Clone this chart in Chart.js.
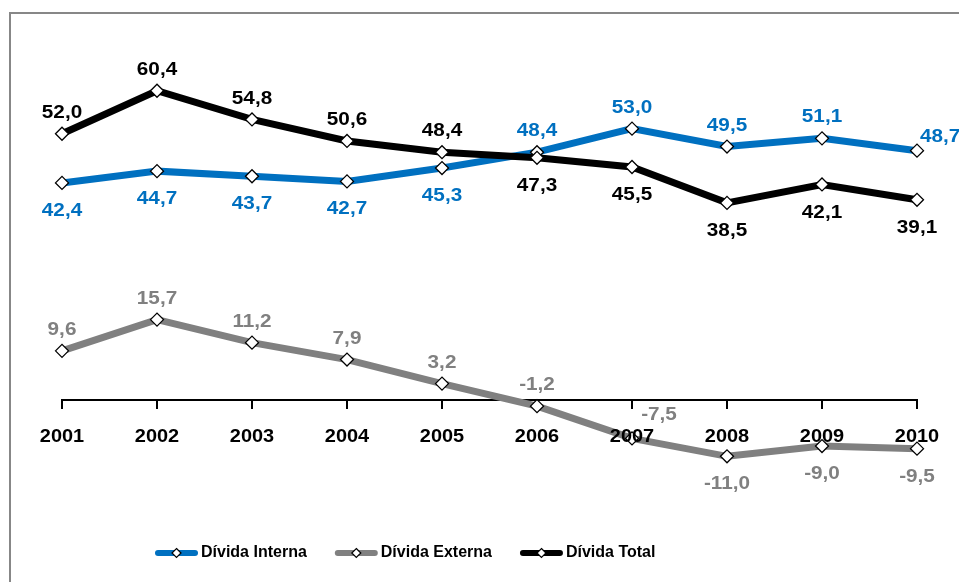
<!DOCTYPE html>
<html>
<head>
<meta charset="utf-8">
<script src="https://cdn.jsdelivr.net/npm/chart.js@4.4.1/dist/chart.umd.min.js"></script>
<style>
    html, body { margin: 0; padding: 0; background: #fff; }
    body { width: 959px; height: 582px; position: relative; overflow: hidden; }
    #frame {
        position: absolute; left: 9px; top: 12px; width: 1000px; height: 600px;
        border-top: 2px solid #878787; border-left: 2px solid #878787;
    }
    #chart { position: absolute; left: 0; top: 0; }
</style>
</head>
<body>
<div id="frame"></div>
<canvas id="chart" width="959" height="582"></canvas>
<script>
// Anos
const anos = ['2001', '2002', '2003', '2004', '2005', '2006', '2007', '2008', '2009', '2010'];

// Séries (% do PIB)
const dividaInterna = [42.4, 44.7, 43.7, 42.7, 45.3, 48.4, 53.0, 49.5, 51.1, 48.7];
const dividaExterna = [9.6, 15.7, 11.2, 7.9, 3.2, -1.2, -7.5, -11.0, -9.0, -9.5];
const dividaTotal = [52.0, 60.4, 54.8, 50.6, 48.4, 47.3, 45.5, 38.5, 42.1, 39.1];

// Onde vai cada rótulo em relação ao ponto
const posInterna = ['below', 'below', 'below', 'below', 'below', 'above', 'above', 'above', 'above', 'right'];
const posExterna = ['above', 'above', 'above', 'above', 'above', 'above', 'aboveRight', 'below', 'below', 'below'];
const posTotal = ['above', 'above', 'above', 'above', 'above', 'below', 'below', 'below', 'below', 'below'];

const AZUL = '#0070C0';
const CINZA = '#808080';
const PRETO = '#000000';
const FONTE = 'Liberation Sans, Arial, sans-serif';

function fmt(v) {
    return v.toFixed(1).replace('.', ',');
}

// texto em negrito, com alargamento horizontal opcional (sx)
function texto(ctx, str, x, y, align, size, color, sx) {
    ctx.save();
    ctx.translate(x, y);
    ctx.scale(sx || 1, 1);
    ctx.font = 'bold ' + size + 'px ' + FONTE;
    ctx.fillStyle = color;
    ctx.textAlign = align;
    ctx.textBaseline = 'middle';
    ctx.fillText(str, 0, 0);
    ctx.restore();
}

function losango(ctx, x, y, r) {
    ctx.beginPath();
    ctx.moveTo(x, y - r);
    ctx.lineTo(x + r, y);
    ctx.lineTo(x, y + r);
    ctx.lineTo(x - r, y);
    ctx.closePath();
    ctx.fillStyle = '#fff';
    ctx.fill();
    ctx.lineWidth = 1.2;
    ctx.strokeStyle = '#000';
    ctx.stroke();
}

// Rótulos de valores, anos no eixo e legenda
const rotulos = {
    id: 'rotulos',
    afterDatasetsDraw(chart) {
        const ctx = chart.ctx;
        chart.data.datasets.forEach((ds, i) => {
            const meta = chart.getDatasetMeta(i);
            meta.data.forEach((pt, j) => {
                const pos = ds.labelPos[j];
                const s = fmt(ds.data[j]);
                const c = ds.labelColor;
                if (pos === 'above') texto(ctx, s, pt.x, pt.y - 21, 'center', 18.5, c, 1.12);
                else if (pos === 'below') texto(ctx, s, pt.x, pt.y + 28, 'center', 18.5, c, 1.12);
                else if (pos === 'right') texto(ctx, s, pt.x + 3, pt.y - 14, 'left', 18.5, c, 1.12);
                else if (pos === 'aboveRight') texto(ctx, s, pt.x + 27, pt.y - 23, 'center', 18.5, c, 1.12);
            });
        });
    },
    afterDraw(chart) {
        const ctx = chart.ctx;
        const xs = chart.scales.x;
        const y0 = chart.scales.y.getPixelForValue(0);

        // anos abaixo do eixo
        anos.forEach((a, i) => {
            texto(ctx, a, xs.getPixelForValue(i), y0 + 37, 'center', 19, '#000', 1.05);
        });

        // legenda
        const itens = [
            { nome: 'Dívida Interna', cor: AZUL },
            { nome: 'Dívida Externa', cor: CINZA },
            { nome: 'Dívida Total', cor: PRETO }
        ];
        let x = 155;
        const y = 553;
        itens.forEach(it => {
            ctx.save();
            ctx.beginPath();
            ctx.moveTo(x + 3, y);
            ctx.lineTo(x + 40, y);
            ctx.lineWidth = 6;
            ctx.lineCap = 'round';
            ctx.strokeStyle = it.cor;
            ctx.stroke();
            losango(ctx, x + 21.5, y, 4.5);
            ctx.restore();
            ctx.font = 'bold 16px ' + FONTE;
            const w = ctx.measureText(it.nome).width;
            texto(ctx, it.nome, x + 46, y, 'left', 16, '#000');
            x += 46 + w + 28;
        });
    }
};

const ctx = document.getElementById('chart').getContext('2d');

const serie = (label, data, cor, pos, order) => ({
    label: label,
    data: data,
    borderColor: cor,
    borderWidth: 7,
    labelColor: cor,
    labelPos: pos,
    order: order,
    pointStyle: 'rectRot',
    pointRadius: 6.5,
    pointBackgroundColor: '#fff',
    pointBorderColor: '#000',
    pointBorderWidth: 1.3,
    tension: 0,
    clip: false
});

new Chart(ctx, {
    type: 'line',
    data: {
        labels: anos,
        datasets: [
            serie('Dívida Interna', dividaInterna, AZUL, posInterna, 2),
            serie('Dívida Externa', dividaExterna, CINZA, posExterna, 1),
            serie('Dívida Total', dividaTotal, PRETO, posTotal, 0)
        ]
    },
    options: {
        responsive: false,
        animation: false,
        layout: {
            padding: { left: 62, right: 42, top: 41.6, bottom: 79.6 }
        },
        plugins: {
            legend: { display: false },
            tooltip: { enabled: false }
        },
        scales: {
            y: {
                display: false,
                min: -20,
                max: 70
            },
            x: {
                position: { y: 0 },
                offset: false,
                border: { display: true, color: '#000', width: 2 },
                grid: {
                    drawOnChartArea: false,
                    drawTicks: true,
                    tickLength: 8,
                    color: '#000',
                    lineWidth: 2
                },
                ticks: { display: false }
            }
        }
    },
    plugins: [rotulos]
});
</script>
</body>
</html>
